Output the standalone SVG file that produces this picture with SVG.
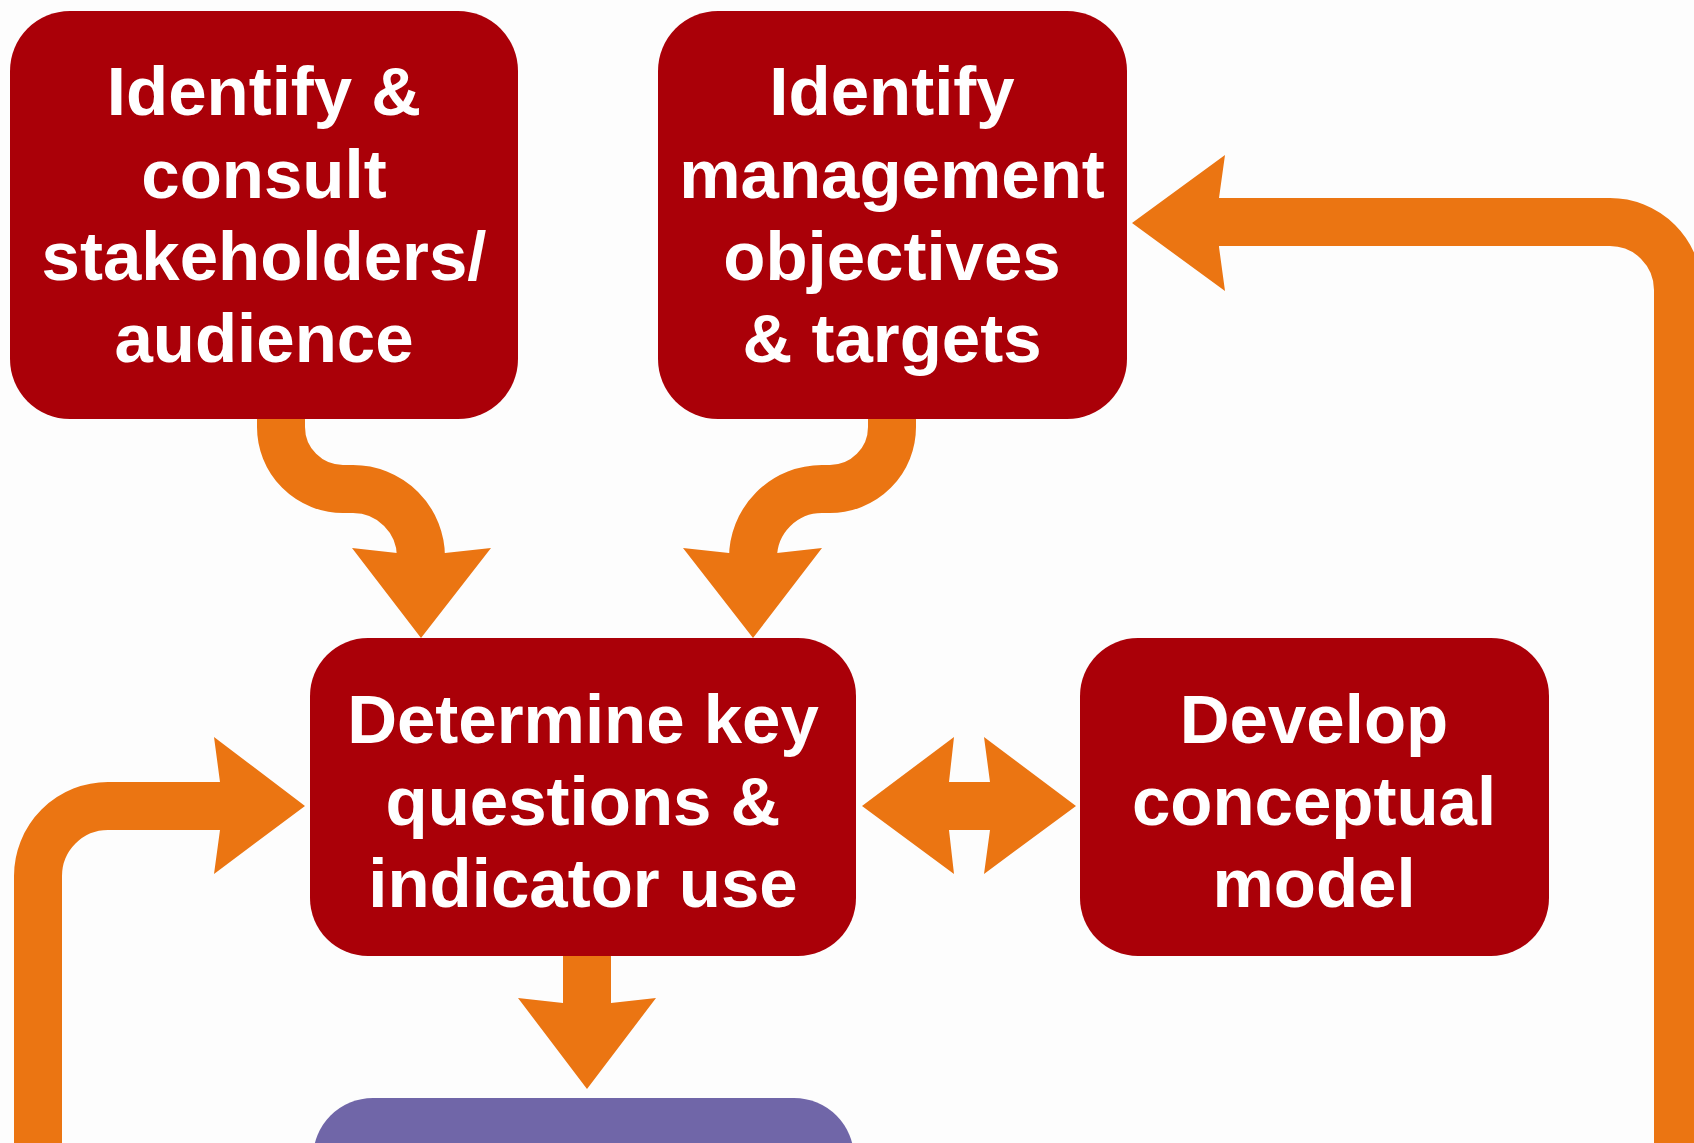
<svg xmlns="http://www.w3.org/2000/svg" width="1694" height="1143" viewBox="0 0 1694 1143">
<style>
.bg{fill:#FDFDFD}
.box{fill:#AA0008}
.pbox{fill:#7066A8}
.t{font-family:"Liberation Sans",Arial,Helvetica,sans-serif;font-weight:bold;font-size:69px;fill:#FFFFFF;text-anchor:middle}
.band{fill:none;stroke:#EB7512;stroke-width:48}
.head{fill:#EB7512}
</style>
<rect class="bg" x="0" y="0" width="1694" height="1143"/>
<g id="connectors">
<path class="band" d="M 281 419 V 427 A 62 62 0 0 0 343 489 H 353 A 68 68 0 0 1 421 557"/>
<polygon class="head" points="352,548 397,553 445,553 491,548 421,638"/>
<path class="band" d="M 892 419 V 427 A 62 62 0 0 1 830 489 H 822 A 69 69 0 0 0 753 558"/>
<polygon class="head" points="683,548 729,553 777,553 822,548 753,638"/>
<path class="band" d="M 587 956 V 1004"/>
<polygon class="head" points="518,998 563,1003 611,1003 656,998 587,1089"/>
<path class="band" d="M 1678 1160 V 290 A 68 68 0 0 0 1610 222 H 1215"/>
<polygon class="head" points="1132,223 1225,155 1219,198 1219,247 1225,291"/>
<path class="band" d="M 38 1160 V 876 A 70 70 0 0 1 108 806 H 224"/>
<polygon class="head" points="305,806 214,737 220,782 220,830 214,874"/>
<polygon class="head" points="862,806 954,737 949,782 990,782 984,737 1076,806 984,874 990,830 949,830 954,874"/>
</g>
<g id="n1">
<rect class="box" x="10" y="11" width="508" height="408" rx="60"/>
<text class="t" x="264" y="115">Identify &amp;</text>
<text class="t" x="264" y="198">consult</text>
<text class="t" x="264" y="280">stakeholders/</text>
<text class="t" x="264" y="362">audience</text>
</g>
<g id="n2">
<rect class="box" x="658" y="11" width="469" height="408" rx="60"/>
<text class="t" x="892" y="115">Identify</text>
<text class="t" x="892" y="198">management</text>
<text class="t" x="892" y="280">objectives</text>
<text class="t" x="892" y="362">&amp; targets</text>
</g>
<g id="n3">
<rect class="box" x="310" y="638" width="546" height="318" rx="58"/>
<text class="t" x="583" y="743">Determine key</text>
<text class="t" x="583" y="825">questions &amp;</text>
<text class="t" x="583" y="907">indicator use</text>
</g>
<g id="n4">
<rect class="box" x="1080" y="638" width="469" height="318" rx="58"/>
<text class="t" x="1314" y="743">Develop</text>
<text class="t" x="1314" y="825">conceptual</text>
<text class="t" x="1314" y="907">model</text>
</g>
<g id="n5">
<rect class="pbox" x="313" y="1098" width="541" height="200" rx="60"/>
</g>
</svg>
